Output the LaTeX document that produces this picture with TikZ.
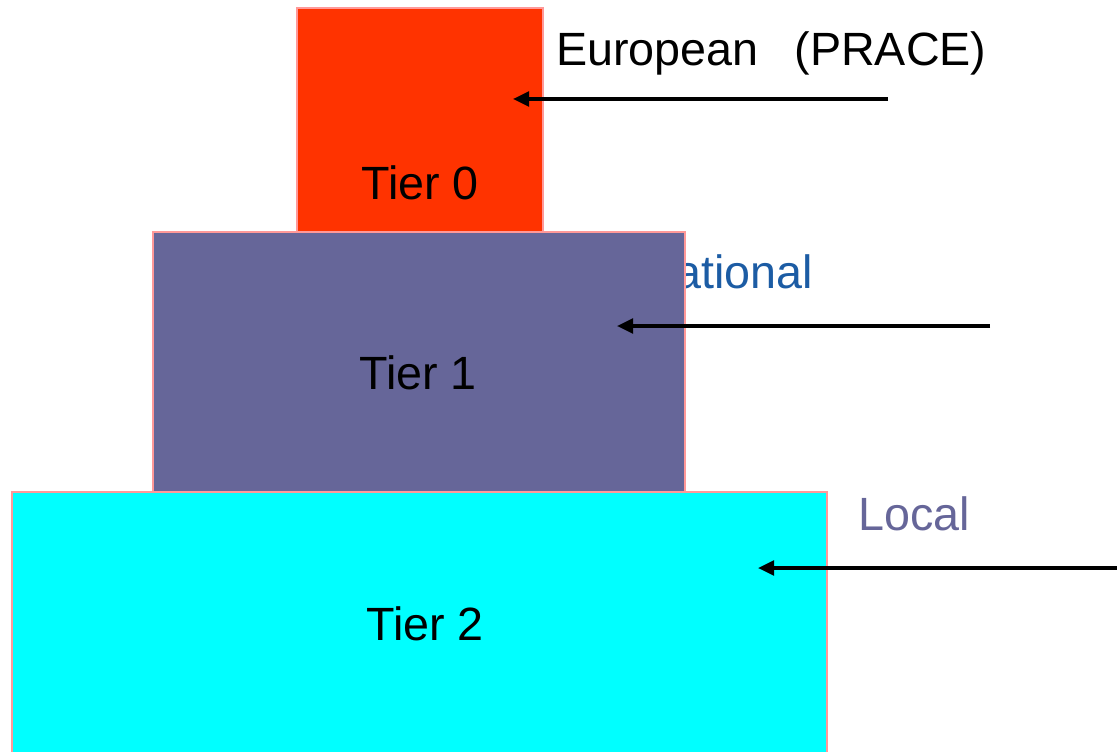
\documentclass[tikz,border=0pt]{standalone}
\usepackage{fontspec}
\setmainfont{Liberation Sans}
\usetikzlibrary{arrows.meta}
\definecolor{tierred}{HTML}{FF3300}
\definecolor{tierpurple}{HTML}{666699}
\definecolor{tiercyan}{HTML}{00FFFF}
\definecolor{tieredge}{HTML}{FF9999}
\definecolor{natblue}{HTML}{1C5CA4}
\tikzset{
  tierbox/.style={draw=tieredge, line width=1pt},
  lbl/.style={inner sep=0pt, anchor=base, font=\fontsize{35}{40}\selectfont},
  ptr/.style={line width=2.4pt, -{Triangle[length=12pt,width=11pt]}}
}

\begin{document}
\begin{tikzpicture}[x=0.75pt,y=-0.75pt]
    \useasboundingbox (0,0) rectangle (1117,752);
    \clip (0,0) rectangle (1117,752);

    \filldraw[tierbox, fill=tiercyan] (12,492) rectangle (827,770);
    \node[lbl, anchor=base west, text=tierpurple] (local) at (858,530) {Local};

    \node[lbl, anchor=base east, text=natblue] (national) at (813,288) {National};
    \filldraw[tierbox, fill=tierpurple] (153,232) rectangle (685,492);

    \filldraw[tierbox, fill=tierred] (297,8) rectangle (543,232);
    \node[lbl, anchor=base west] (european) at (556,66) {European\hspace{27pt}(PRACE)};

    \node[lbl] (tier0) at (420,200) {Tier 0};
    \node[lbl] (tier1) at (418,389) {Tier 1};
    \node[lbl] (tier2) at (425,640) {Tier 2};

    \coordinate (eurfrom) at (888,99);
    \coordinate (eurto) at (513,99);
    \coordinate (natfrom) at (990,326);
    \coordinate (natto) at (617,326);
    \coordinate (locfrom) at (1117,568);
    \coordinate (locto) at (758,568);
    \draw[ptr] (eurfrom) -- (eurto);
    \draw[ptr] (natfrom) -- (natto);
    \draw[ptr] (locfrom) -- (locto);
\end{tikzpicture}
\end{document}
